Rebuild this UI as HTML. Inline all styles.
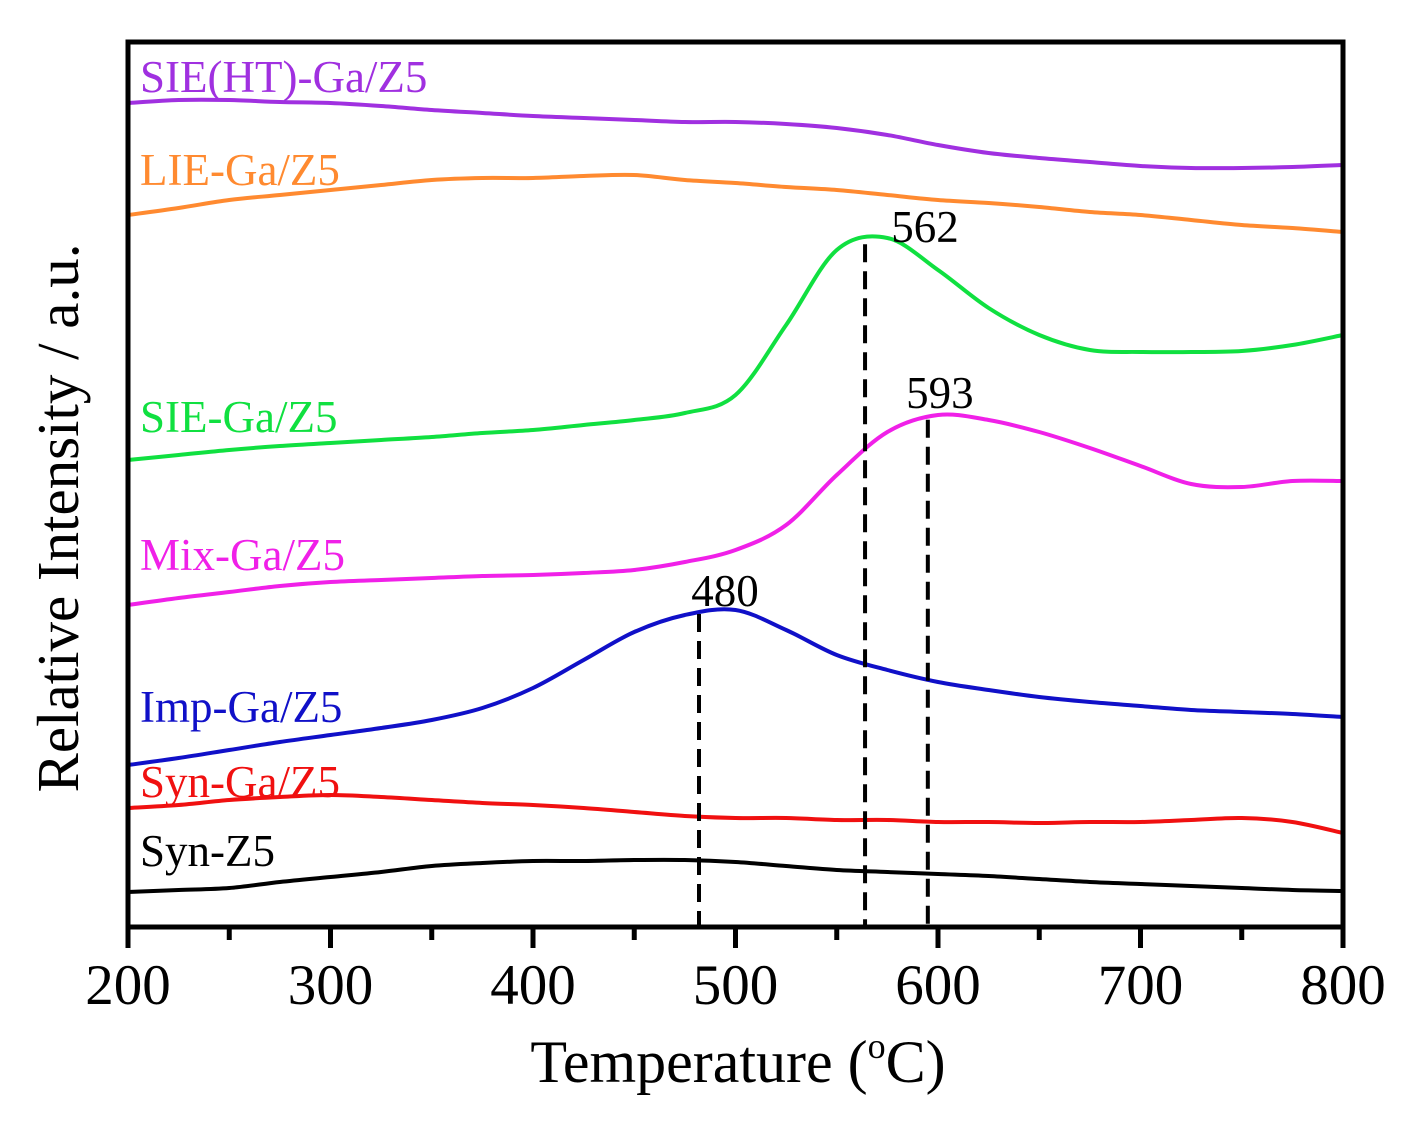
<!DOCTYPE html>
<html><head><meta charset="utf-8"><style>
body{margin:0;background:#fff}
svg text{font-family:"Liberation Serif",serif}
</style></head><body>
<svg id="c" width="1412" height="1132" viewBox="0 0 1412 1132">
<rect x="0" y="0" width="1412" height="1132" fill="#fff"/>
<g id="plot"></g>
<rect x="128" y="42" width="1215" height="885" fill="none" stroke="#000" stroke-width="5"/>
<g id="ticks"></g>
<text x="738" y="1082" font-size="60" text-anchor="middle">Temperature  (<tspan font-size="36" dy="-24">o</tspan><tspan dy="24">C)</tspan></text>
<text transform="translate(78,518) rotate(-90)" font-size="59" text-anchor="middle">Relative Intensity / a.u.</text>
</svg>
<script>
const xTicks=[200,300,400,500,600,700,800];
const xMinor=[250,350,450,550,650,750];
const temps=[200,225,250,275,300,325,350,375,400,425,450,475,500,525,550,575,600,625,650,675,700,725,750,775,800];
const synZ5=[33,35,37,43,48,53,59,62,64,64,65,65,63,59,55,53,51,49,46,43,41,39,37,35,34];
const synGa=[117,120,125,128,130,128,125,122,120,117,113,109,107,107,105,105,103,103,102,103,103,105,107,103,92];
const imp=[160,167,175,183,190,197,205,217,237,265,293,310,315,295,270,255,243,235,228,223,219,215,213,211,208];
const mix=[320,327,333,339,343,345,347,349,350,352,355,363,375,400,450,493,510,505,493,477,459,441,438,444,444];
const sie=[465,470,475,479,482,485,488,492,495,500,505,512,530,600,675,687,655,617,590,575,573,573,574,580,590];
const lie=[710,717,725,730,735,740,745,747,747,749,750,745,742,738,735,730,725,722,718,713,710,705,700,697,693];
const sieHT=[822,825,825,823,822,819,815,812,809,807,805,803,803,801,797,790,780,772,767,763,759,757,757,758,760];
const seriesNames=["Syn-Z5","Syn-Ga/Z5","Imp-Ga/Z5","Mix-Ga/Z5","SIE-Ga/Z5","LIE-Ga/Z5","SIE(HT)-Ga/Z5"];
const peakTemps=[480,562,593];
const peakLabels=["480","562","593"];
const series=[synZ5,synGa,imp,mix,sie,lie,sieHT];
const colors=["#000","#f01010","#1010c8","#f020e8","#10e040","#ff8a30","#a030e0"];
const labelPos=[[140,866],[140,797],[140,722],[140,570],[140,432],[140,185],[140,92]];
const peakDx=[30,64,16];
const peakDy=[-8,-2,-12];
const xs=v=>128+(v-200)*1215/600;
const ys=v=>925-v;
const NS="http://www.w3.org/2000/svg";
const plot=document.getElementById('plot'),tk=document.getElementById('ticks');
function mk(t,a,p){const e=document.createElementNS(NS,t);for(const k in a)e.setAttribute(k,a[k]);p.appendChild(e);return e;}
function interp(arr,t){for(let i=0;i<temps.length-1;i++){if(t>=temps[i]&&t<=temps[i+1]){const f=(t-temps[i])/(temps[i+1]-temps[i]);return arr[i]+(arr[i+1]-arr[i])*f;}}return arr[arr.length-1];}
series.forEach((s,i)=>{
  const pts=temps.map((t,j)=>[xs(t),ys(s[j])]);
  let d="M"+pts[0][0]+","+pts[0][1];
  for(let j=0;j<pts.length-1;j++){const p0=pts[Math.max(0,j-1)],p1=pts[j],p2=pts[j+1],p3=pts[Math.min(pts.length-1,j+2)];
    d+=` C${p1[0]+(p2[0]-p0[0])/6},${p1[1]+(p2[1]-p0[1])/6} ${p2[0]-(p3[0]-p1[0])/6},${p2[1]-(p3[1]-p1[1])/6} ${p2[0]},${p2[1]}`;}
  const p=mk('path',{d:d,fill:'none',stroke:colors[i],'stroke-width':4},plot);
  
  
  const tx=mk('text',{x:labelPos[i][0],y:labelPos[i][1],'font-size':45,fill:colors[i]},plot);
  tx.textContent=seriesNames[i];
  
  
});
const peakSeries=[imp,sie,mix];
peakTemps.forEach((t,i)=>{
  const top=ys(interp(peakSeries[i],t));
  const l=mk('line',{x1:xs(t)+4,x2:xs(t)+4,y1:top,y2:925,stroke:'#000','stroke-width':4,'stroke-dasharray':'18,9'},plot);
  
  
  const tx=mk('text',{x:xs(t)+peakDx[i],y:top+peakDy[i],'font-size':45,'text-anchor':'middle'},plot);
  tx.textContent=peakLabels[i];
  
  
});
xTicks.forEach(v=>{
  const l=mk('line',{x1:xs(v),x2:xs(v),y1:925,y2:948,stroke:'#000','stroke-width':5},tk);
  
  
  const t=mk('text',{x:xs(v),y:1004,'font-size':57,'text-anchor':'middle'},tk);
  t.textContent=v;
  
  
});
xMinor.forEach(v=>{
  const l=mk('line',{x1:xs(v),x2:xs(v),y1:925,y2:940,stroke:'#000','stroke-width':5},tk);
  
  
});
</script>
</body></html>
